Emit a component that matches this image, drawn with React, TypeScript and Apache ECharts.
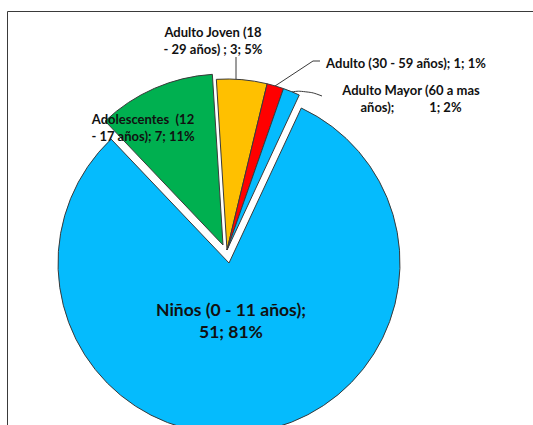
import React, { useEffect, useRef } from "react";
import * as echarts from "echarts";

const categories = [
  "Niños (0 - 11 años)",
  "Adolescentes  (12\n- 17 años)",
  "Adulto Joven (18\n- 29 años) ",
  "Adulto (30 - 59 años)",
  "Adulto Mayor (60 a mas\naños)",
];
const values = [51, 7, 3, 1, 1];
const percents = [81, 11, 5, 1, 2];
const separators = [";\n", "; ", "; ", "; ", ";           "];
const colors = ["#05BBFD", "#00B050", "#FFC000", "#FF0000", "#05BBFD"];

// layout (not data)
const centers: [number, number][] = [
  [229, 263],
  [223, 245],
  [227, 250],
  [227, 250],
  [227, 250],
];
const labelPos: [number, number][] = [
  [231, 320],
  [143, 127],
  [213, 40],
  [406, 63],
  [411, 98],
];
const linePts: (number[][] | null)[] = [
  null,
  null,
  [[236, 79], [236, 68], [236, 57]],
  [[275, 86], [313, 61], [320, 61]],
  [[291, 92], [306, 90], [322, 96]],
];

export default function App() {
  const ref = useRef<HTMLDivElement>(null);
  useEffect(() => {
    if (!ref.current) return;
    const chart = echarts.init(ref.current, null, { renderer: "svg" });
    const series = values.map((_, k) => ({
      type: "pie",
      silent: true,
      center: centers[k],
      radius: 171,
      startAngle: 65,
      clockwise: true,
      avoidLabelOverlap: false,
      emphasis: { disabled: true },
      z: k === 0 ? 1 : 2,
      label: {
        show: false,
        fontFamily: "Lato",
        fontWeight: "bold",
        color: "#111",
        fontSize: k === 0 ? 17.5 : 13,
        lineHeight: k === 0 ? 22 : 17,
        align: "center",
      },
      labelLine: { show: false, lineStyle: { color: "#3a3a3a", width: 1 }, smooth: k === 4 ? 0.5 : false },
      labelLayout: (p: any) => {
        const i = p.dataIndex;
        const out: any = {
          x: labelPos[i][0],
          y: labelPos[i][1],
          align: "center",
          verticalAlign: "middle",
        };
        if (linePts[i]) out.labelLinePoints = linePts[i];
        return out;
      },
      data: values.map((v, i) => ({
        value: v,
        name: categories[i],
        itemStyle:
          i === k
            ? { color: colors[i], borderColor: "#3a3a3a", borderWidth: 1 }
            : { color: "rgba(0,0,0,0)", borderWidth: 0 },
        label: {
          show: i === k,
          position: i <= 1 ? "inside" : "outside",
          formatter: () => `${categories[i]}${separators[i]}${values[i]}; ${percents[i]}%`,
        },
        labelLine: { show: i === k && !!linePts[i] },
      })),
    }));
    chart.setOption({
      animation: false,
      backgroundColor: "#fff",
      graphic: [
        {
          type: "rect",
          shape: { x: 7.5, y: 11.5, width: 600, height: 500 },
          style: { fill: "none", stroke: "#3a3a3a", lineWidth: 1 },
          z: 0,
          silent: true,
        },
      ],
      series,
    });
    return () => chart.dispose();
  }, []);
  return (
    <div
      ref={ref}
      style={{ position: "absolute", left: 0, top: 0, width: 533, height: 425 }}
    />
  );
}
